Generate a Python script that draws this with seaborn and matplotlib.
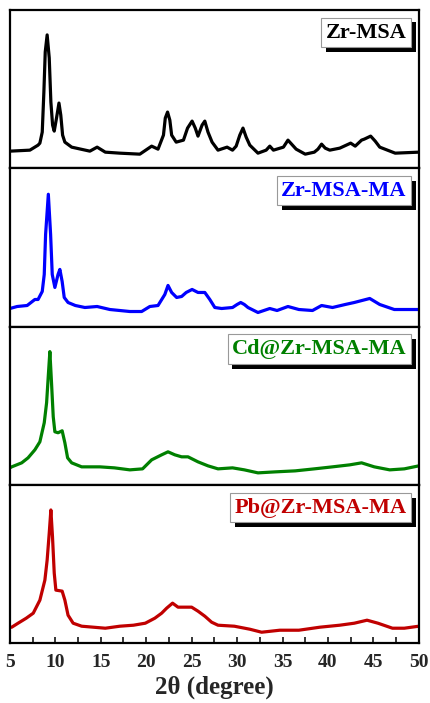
import matplotlib
matplotlib.use("Agg")
import matplotlib.pyplot as plt
import matplotlib.patheffects as pe
from matplotlib.ticker import MultipleLocator
import pandas as pd
import seaborn as sns

# XRD patterns (2theta in degree, intensity in a.u.)
tt_zr_msa = [5.0, 7.2, 8.1, 8.3, 8.56, 8.74, 8.89, 9.1, 9.33, 9.51, 9.7, 9.88,
             10.13, 10.4, 10.6, 10.8, 11.05, 11.8, 13.8, 14.6, 15.5,
             17.1, 19.3, 20.6, 21.3, 21.9, 22.1, 22.35, 22.6, 22.8, 23.3, 24.1,
             24.55, 25.05, 25.4, 25.7, 26.15, 26.45, 26.8, 27.25, 27.9, 28.9,
             29.5, 29.9, 30.3, 30.65, 31.0, 31.4, 32.3, 33.2, 33.6, 34.0, 35.1,
             35.6, 36.0, 36.5, 37.5, 38.5, 38.9, 39.3, 39.7, 40.2, 41.3, 42.5,
             43.0, 43.7, 44.0, 44.7, 45.2, 45.7, 47.4, 50.0]
int_zr_msa = [17, 18, 23, 25, 36, 76, 116, 133, 110, 66, 43, 37,
              50, 65, 53, 33, 26, 21, 17, 21, 16,
              15, 14, 22, 19, 33, 50, 56, 48, 33, 26, 28,
              40, 47, 40, 32, 43, 47, 36, 26, 18, 21,
              18, 22, 33, 40, 31, 23, 15, 18, 22, 18, 21,
              28, 24, 19, 14, 16, 19, 24, 20, 18, 20, 25,
              22, 28, 29, 32, 27, 21, 15, 16]

tt_zr_msa_ma = [5.0, 5.8, 6.9, 7.75, 8.1, 8.56, 8.78, 8.93, 9.23, 9.48, 9.66,
                9.95, 10.3, 10.5, 10.75, 10.98, 11.4, 12.2, 13.25,
                14.6, 16.0, 18.2, 19.5, 20.4, 21.3, 22.05, 22.4, 22.8, 23.35,
                23.9, 24.4, 25.05, 25.7, 26.45, 27.0, 27.55, 28.3, 29.5, 30.0,
                30.4, 30.8, 31.2, 32.3, 33.6, 34.4, 35.6, 36.8, 38.3, 39.3,
                40.5, 41.9, 42.9, 44.6, 45.7, 47.3, 50.0]
int_zr_msa_ma = [18, 20, 21, 27, 27, 35, 52, 92, 132, 92, 52,
                 39, 52, 57, 45, 29, 24, 21, 19,
                 20, 17, 15, 15, 20, 21, 32, 41, 34, 29,
                 30, 34, 37, 34, 34, 27, 19, 18, 19, 22,
                 24, 22, 19, 14, 18, 16, 20, 17, 16, 21,
                 19, 22, 24, 28, 22, 17, 17]

tt_cd = [5.0, 5.2, 6.3, 7.0, 7.75, 8.3, 8.78, 9.04, 9.22, 9.4, 9.58, 9.77,
         9.95, 10.3, 10.75, 11.05, 11.35, 11.8, 12.9, 14.9, 16.5, 18.2, 19.6,
         20.6, 21.7, 22.4, 23.15, 23.9, 24.6, 25.7, 26.8, 27.9, 29.5, 30.8,
         32.3, 34.2, 36.4, 38.5, 40.5, 42.4, 43.7, 45.1, 46.8, 48.4, 50.0]
int_cd = [17, 18, 22, 27, 35, 43, 62, 82, 108, 133, 102, 68,
          53, 52, 54, 42, 27, 22, 18, 18, 17, 15, 16,
          25, 30, 33, 30, 28, 28, 23, 19, 16, 17, 15,
          12, 13, 14, 16, 18, 20, 22, 18, 15, 16, 19]

tt_pb = [5.0, 5.2, 5.9, 6.8, 7.57, 8.3, 8.85, 9.1, 9.33, 9.51, 9.69, 9.88,
         10.06, 10.75, 11.05, 11.4, 11.96, 12.9, 15.5, 17.1, 18.6, 19.9,
         20.95, 21.7, 22.25, 22.9, 23.5, 24.25, 25.0, 25.7, 26.45, 27.2, 27.9,
         29.7, 31.4, 32.7, 34.7, 36.8, 39.1, 41.3, 42.9, 44.3, 45.5, 47.1,
         48.4, 50.0]
int_pb = [16, 16, 20, 25, 30, 43, 63, 83, 110, 133, 106, 70,
          53, 52, 43, 28, 20, 17, 15, 17, 18, 20,
          25, 30, 35, 40, 36, 36, 36, 32, 27, 21, 18,
          17, 14, 11, 13, 13, 16, 18, 20, 23, 20, 15,
          15, 17]

samples = ["Zr-MSA", "Zr-MSA-MA", "Cd@Zr-MSA-MA", "Pb@Zr-MSA-MA"]
colors = ["#000000", "#0000FF", "#008000", "#C00000"]
patterns = [(tt_zr_msa, int_zr_msa), (tt_zr_msa_ma, int_zr_msa_ma),
            (tt_cd, int_cd), (tt_pb, int_pb)]

sns.set_style("ticks")
plt.rcParams["font.family"] = ["Liberation Serif", "DejaVu Serif"]
plt.rcParams["font.weight"] = "bold"

fig, axes = plt.subplots(4, 1, figsize=(4.3, 7.03), dpi=100, sharex=True)
fig.subplots_adjust(left=0.023, right=0.974, top=0.986, bottom=0.085, hspace=0)

for ax, name, color, (tt, inten) in zip(axes, samples, colors, patterns):
    df = pd.DataFrame({"two_theta": tt, "intensity": inten})
    sns.lineplot(data=df, x="two_theta", y="intensity", ax=ax, color=color,
                 linewidth=2.3, label=name, sort=False, estimator=None,
                 solid_joinstyle="round", solid_capstyle="round")
    ax.set_xlim(5, 50)
    ax.set_ylim(0, 158)
    ax.set_yticks([])
    ax.set_ylabel("")
    ax.set_xlabel("")
    for sp in ax.spines.values():
        sp.set_linewidth(1.6)
        sp.set_color("black")

    leg = ax.legend(loc="upper right", handlelength=0, handletextpad=0,
                    fancybox=False, borderpad=0.2, borderaxespad=0.35,
                    prop={"family": "Liberation Serif", "weight": "bold", "size": 16},
                    labelcolor=color, edgecolor="#999999", framealpha=1)
    for h in leg.legend_handles:
        h.set_visible(False)
    frame = leg.get_frame()
    frame.set_linewidth(0.8)
    frame.set_path_effects([pe.SimplePatchShadow(offset=(3.5, -3.5),
                                                 shadow_rgbFace="black", alpha=1),
                            pe.Normal()])

    ax.tick_params(axis="x", which="both", direction="in", length=4, width=1.3,
                   bottom=(ax is axes[-1]), top=False, labelbottom=(ax is axes[-1]))

bottom = axes[-1]
bottom.xaxis.set_major_locator(MultipleLocator(5))
bottom.xaxis.set_minor_locator(MultipleLocator(2.5))
for lbl in bottom.get_xticklabels():
    lbl.set_fontsize(14)
    lbl.set_fontweight("bold")
bottom.tick_params(axis="x", pad=8)
bottom.set_xlabel("2θ (degree)", fontsize=18, fontweight="bold", labelpad=3)

plt.savefig("out.png", dpi=100)
